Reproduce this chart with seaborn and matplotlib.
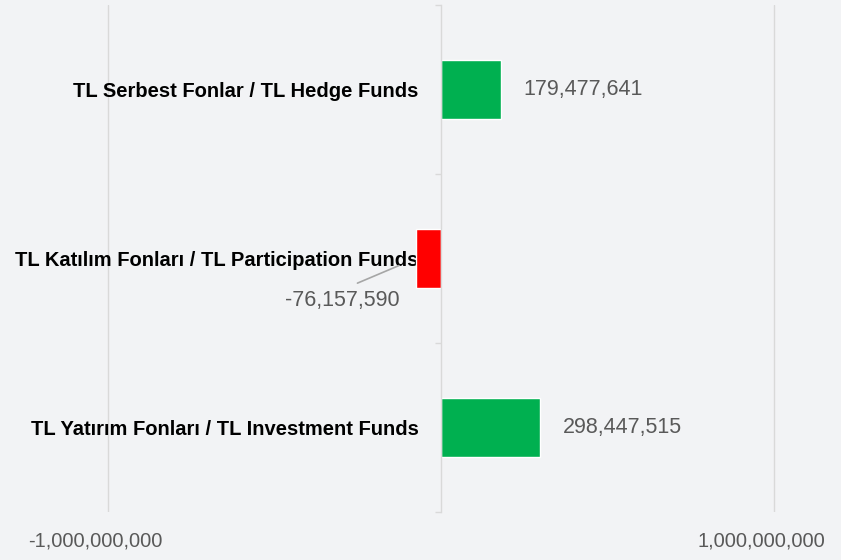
import matplotlib
matplotlib.use("Agg")
import matplotlib.pyplot as plt
import matplotlib.transforms as mtransforms
import seaborn as sns
from matplotlib.ticker import FuncFormatter

categories = ['TL Serbest Fonlar / TL Hedge Funds',
              'TL Katılım Fonları / TL Participation Funds',
              'TL Yatırım Fonları / TL Investment Funds']
values = [179477641, -76157590, 298447515]
bar_colors = ['#00b050', '#ff0000', '#00b050']
x_ticks = [-1000000000, 1000000000]

sns.set_theme(style='white')
plt.rcParams['font.family'] = ['Liberation Sans', 'DejaVu Sans']

bg = '#f2f3f5'
fig = plt.figure(figsize=(8.41, 5.6), dpi=100, facecolor=bg)
ax = fig.add_axes([0, 48 / 560, 1, 507 / 560])
ax.set_facecolor(bg)

sns.barplot(x=values, y=categories, hue=categories, palette=bar_colors,
            orient='h', width=0.355, legend=False, ax=ax, saturation=1)

ax.set_xlim(-441 * 3.003e6, 400 * 3.003e6)
ax.set_ylim(2.5, -0.5)

# grid at the major ticks
ax.set_xticks(x_ticks)
ax.xaxis.set_major_formatter(FuncFormatter(lambda v, p: f'{int(v):,}'))
ax.grid(axis='x', color='#d9d9d9', linewidth=1)
ax.grid(axis='y', visible=False)
ax.tick_params(axis='x', length=0, pad=14, labelsize=14.5, labelcolor='#595959')
shift = mtransforms.ScaledTranslation(-13 / 100, 0, fig.dpi_scale_trans)
for lab in ax.get_xticklabels():
    lab.set_transform(lab.get_transform() + shift)

for s in ['top', 'right', 'bottom']:
    ax.spines[s].set_visible(False)
ax.spines['left'].set_position(('data', 0))
ax.spines['left'].set_color('#d9d9d9')
ax.spines['left'].set_linewidth(1)

ax.set_yticks(range(len(categories)))
ax.set_yticklabels(categories, fontweight='bold', fontsize=14.5, color='black')
ax.set_yticks([-0.5, 0.5, 1.5, 2.5], minor=True)
ax.tick_params(axis='y', which='major', length=0, pad=16)
ax.tick_params(axis='y', which='minor', length=4, color='#d9d9d9', width=1, left=True)
ax.set_xlabel('')
ax.set_ylabel('')

# value labels
for i, v in enumerate(values):
    txt = f'{v:,}'
    if v >= 0:
        ax.annotate(txt, xy=(v, i), xytext=(16, 0), textcoords='offset points',
                    ha='left', va='center', fontsize=15.5, color='#595959')
    else:
        ax.annotate(txt, xy=(v, i), xytext=(-53, -30), textcoords='offset points',
                    ha='center', va='center', fontsize=15.5, color='#595959',
                    arrowprops=dict(arrowstyle='-', color='#a6a6a6', lw=1.2,
                                    relpos=(0.5, 1), shrinkA=6, shrinkB=13))

fig.savefig('out.png', dpi=100, facecolor=bg)
